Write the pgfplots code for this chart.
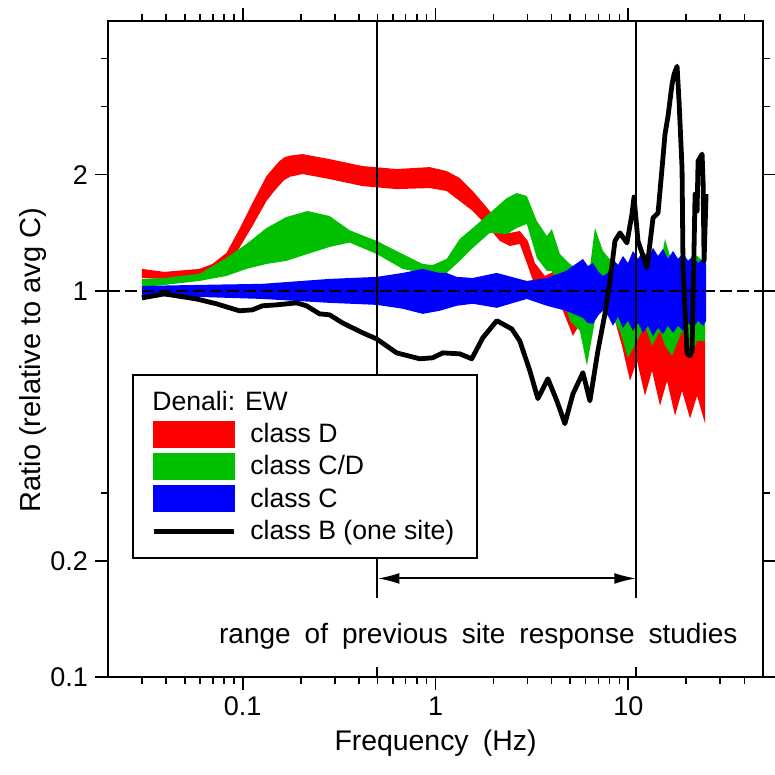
\documentclass[border=0pt]{standalone}
\usepackage{fontspec}
\setmainfont{Liberation Sans}
\newfontfamily\widefont{Liberation Sans}[WordSpace=1.8]
\usepackage{pgfplots}
\usepackage{pgfplotstable}
\usepgfplotslibrary{fillbetween}
\usetikzlibrary{arrows.meta}
\pgfplotsset{compat=1.18}

\definecolor{cD}{RGB}{255,0,0}
\definecolor{cCD}{RGB}{0,192,0}
\definecolor{cC}{RGB}{0,0,255}

\pgfplotstableread{
f lo hi
0.03 1.080 1.140
0.0392 1.074 1.120
0.0596 1.100 1.140
0.0696 1.126 1.174
0.0823 1.160 1.254
0.0961 1.292 1.446
0.1123 1.473 1.689
0.1328 1.709 1.983
0.1440 1.800 2.080
0.1551 1.880 2.169
0.1650 1.940 2.220
0.1760 1.975 2.240
0.2042 2.007 2.261
0.2821 1.948 2.194
0.4185 1.868 2.105
0.6286 1.835 2.068
0.933 1.846 2.092
1.143 1.814 2.043
1.336 1.709 1.960
1.561 1.610 1.814
1.912 1.446 1.610
2.156 1.347 1.499
2.43 1.307 1.413
2.737 1.323 1.429
3.013 1.160 1.347
3.276 1.030 1.181
3.693 0.971 1.093
4.161 1.000 1.126
4.691 0.862 1.000
5.162 0.765 0.942
5.748 0.837 1.000
6.324 0.942 1.093
7.129 1.030 1.232
7.752 1.000 1.210
8.53 0.837 1.000
9.276 0.721 0.942
10.21 0.585 0.888
11.10 0.659 0.942
12.21 0.535 0.837
13.28 0.621 0.888
14.61 0.504 0.862
15.89 0.585 0.888
17.48 0.475 0.837
19.01 0.551 0.862
20.92 0.467 0.837
22.75 0.535 0.862
25.03 0.453 0.837
}\Dtab

\pgfplotstableread{
f lo hi
0.03 1.024 1.074
0.0392 1.036 1.080
0.0596 1.061 1.107
0.0823 1.093 1.217
0.1045 1.140 1.323
0.1328 1.174 1.455
0.1686 1.196 1.554
0.2168 1.246 1.610
0.2821 1.299 1.563
0.3583 1.334 1.436
0.495 1.246 1.347
0.6755 1.140 1.246
0.8581 1.113 1.174
0.9671 1.107 1.167
1.143 1.113 1.210
1.336 1.196 1.363
1.561 1.292 1.455
1.912 1.413 1.591
2.344 1.404 1.740
2.641 1.455 1.792
2.977 1.490 1.761
3.355 1.217 1.517
3.782 1.126 1.387
4.014 1.126 1.446
4.418 1.018 1.246
4.98 0.837 1.174
5.612 0.788 1.126
6.102 0.640 1.000
6.714 0.837 1.455
7.389 0.904 1.269
8.328 0.852 1.181
9.055 0.788 1.140
9.96 0.671 1.160
11.10 0.742 1.210
12.21 0.812 1.181
13.28 0.721 1.232
14.61 0.788 1.160
15.51 0.721 1.363
16.87 0.679 1.181
19.01 0.788 1.210
20.92 0.671 1.181
22.75 0.742 1.232
25.03 0.742 1.181
}\CDtab

\pgfplotstableread{
f lo hi
0.03 0.971 1.030
0.0575 0.965 1.036
0.1266 0.953 1.043
0.2821 0.931 1.074
0.495 0.920 1.087
0.6755 0.899 1.113
0.8581 0.872 1.140
1.0515 0.888 1.113
1.143 0.899 1.113
1.288 0.915 1.087
1.561 0.926 1.080
2.079 0.904 1.113
2.977 0.953 1.061
3.782 0.915 1.080
4.748 0.888 1.126
5.817 0.852 1.210
6.173 0.826 1.160
6.555 0.822 1.181
6.959 0.862 1.126
7.389 0.888 1.093
7.843 0.862 1.113
8.328 0.812 1.210
8.844 0.857 1.167
9.386 0.802 1.232
9.96 0.837 1.181
10.58 0.788 1.269
11.23 0.826 1.210
11.92 0.779 1.269
12.66 0.812 1.217
13.44 0.765 1.292
14.27 0.802 1.232
15.15 0.774 1.284
16.08 0.812 1.210
17.07 0.779 1.269
18.13 0.812 1.210
19.24 0.788 1.254
20.42 0.826 1.196
21.69 0.798 1.232
23.02 0.837 1.181
24.44 0.812 1.210
25.33 0.837 1.174
}\Ctab

\pgfplotstableread{
f r
0.03 0.959
0.0392 0.982
0.0575 0.953
0.073 0.926
0.0961 0.888
0.1123 0.893
0.1266 0.915
0.1496 0.920
0.1901 0.931
0.2142 0.915
0.2503 0.872
0.2821 0.867
0.3296 0.826
0.4185 0.779
0.495 0.751
0.6286 0.691
0.8281 0.667
0.9671 0.671
1.09 0.691
1.336 0.687
1.542 0.667
1.759 0.756
2.079 0.837
2.488 0.797
2.737 0.742
3.086 0.621
3.396 0.526
3.828 0.592
4.262 0.519
4.691 0.453
5.162 0.541
5.817 0.614
6.324 0.519
6.959 0.700
7.568 0.872
8.035 1.061
8.53 1.347
9.055 1.413
9.845 1.331
10.45 1.582
10.71 1.750
11.23 1.347
12.51 1.147
13.44 1.545
14.27 1.591
14.97 2.080
15.51 2.547
16.08 2.835
16.87 3.430
17.28 3.641
17.91 3.818
18.34 3.100
19.01 2.080
19.24 1.147
20.18 0.687
20.92 0.679
21.43 0.700
22.21 1.781
22.75 1.610
23.02 2.169
24.15 2.261
24.44 1.925
24.73 1.196
25.33 1.781
}\Btab

\begin{document}
\begin{tikzpicture}[font=\fontsize{13.5}{16}\selectfont]
\begin{axis}[
  at={(0pt,0pt)}, anchor=south west,
  scale only axis, width=327.5pt, height=328pt,
  xmode=log, ymode=log,
  xmin=0.02, xmax=50, ymin=0.1, ymax=5,
  xtick={0.1,1,10}, xticklabels={0.1,1,10},
  minor xtick={0.03,0.04,0.05,0.06,0.07,0.08,0.09,0.2,0.3,0.4,0.5,0.6,0.7,0.8,0.9,2,3,4,5,6,7,8,9,20,30,40},
  ytick={0.1,0.2,1,2}, yticklabels={0.1,0.2,1,2},
  minor ytick={0.3,3,4},
  tick align=outside,
  major tick length=6.5pt, minor tick length=3.5pt,
  every tick/.style={black, line width=0.8pt},
  axis line style={line width=0.9pt},
  /pgf/number format/assume math mode=true,
  xlabel={Frequency (Hz)},
  ylabel={Ratio (relative to avg C)},
  xlabel style={font=\widefont\fontsize{14.2}{17}\selectfont},
  ylabel style={font=\fontsize{14.5}{17}\selectfont, at={(axis description cs:-0.115,0.483)}, anchor=center},
  legend cell align=left,
  legend style={at={(0.0366,0.4619)}, anchor=north west, draw=black, line width=1pt, fill=white,
    inner xsep=9.5pt, inner ysep=6pt, row sep=1pt, font=\fontsize{13.3}{16}\selectfont},
]
\addlegendimage{empty legend}
\addlegendentry{\hspace*{-49pt}Denali: EW}
\addlegendimage{legend image code/.code={\fill[cD] (0pt,-6.25pt) rectangle (40pt,6.25pt); \path[draw=none,fill=none] (0pt,0pt) -- (46pt,0pt);}}
\addlegendentry{class D}
\addlegendimage{legend image code/.code={\fill[cCD] (0pt,-6.25pt) rectangle (40pt,6.25pt); \path[draw=none,fill=none] (0pt,0pt) -- (46pt,0pt);}}
\addlegendentry{class C/D}
\addlegendimage{legend image code/.code={\fill[cC] (0pt,-6.25pt) rectangle (40pt,6.25pt); \path[draw=none,fill=none] (0pt,0pt) -- (46pt,0pt);}}
\addlegendentry{class C}
\addlegendimage{legend image code/.code={\draw[black, line width=2.4pt] (0pt,0pt) -- (40pt,0pt); \path[draw=none,fill=none] (0pt,0pt) -- (46pt,0pt);}}
\addlegendentry{class B (one site)}

\addplot[forget plot, black, line width=1pt, dash pattern=on 6pt off 2.5pt] coordinates {(0.02,1) (50,1)};
\addplot[forget plot, black, line width=1pt] coordinates {(0.5,5) (0.5,0.16)};
\addplot[forget plot, black, line width=1pt] coordinates {(0.5,0.1) (0.5,0.106)};
\addplot[forget plot, black, line width=1pt] coordinates {(11,5) (11,0.16)};
\addplot[forget plot, black, line width=1pt] coordinates {(11,0.1) (11,0.106)};
\addplot[forget plot, black, line width=1pt, {Latex[length=11pt,width=5.5pt]}-{Latex[length=11pt,width=5.5pt]}] coordinates {(0.5,0.18) (11,0.18)};

\addplot[forget plot, draw=none, name path=dlo] table[x=f,y=lo] {\Dtab};
\addplot[forget plot, draw=none, name path=dhi] table[x=f,y=hi] {\Dtab};
\addplot[forget plot, cD, draw=none] fill between[of=dlo and dhi];
\addplot[forget plot, draw=none, name path=cdlo] table[x=f,y=lo] {\CDtab};
\addplot[forget plot, draw=none, name path=cdhi] table[x=f,y=hi] {\CDtab};
\addplot[forget plot, cCD, draw=none] fill between[of=cdlo and cdhi];
\addplot[forget plot, draw=none, name path=clo] table[x=f,y=lo] {\Ctab};
\addplot[forget plot, draw=none, name path=chi] table[x=f,y=hi] {\Ctab};
\addplot[forget plot, cC, draw=none] fill between[of=clo and chi];
\addplot[forget plot, black, line width=2.4pt, line join=round] table[x=f,y=r] {\Btab};

\node[font=\widefont\fontsize{14}{16}\selectfont] at (axis cs:1.667,0.1274) {range of previous site response studies};
\end{axis}
\pgfresetboundingbox
\useasboundingbox (-54pt,-49pt) rectangle (333.5pt,338.5pt);
\end{tikzpicture}
\end{document}
